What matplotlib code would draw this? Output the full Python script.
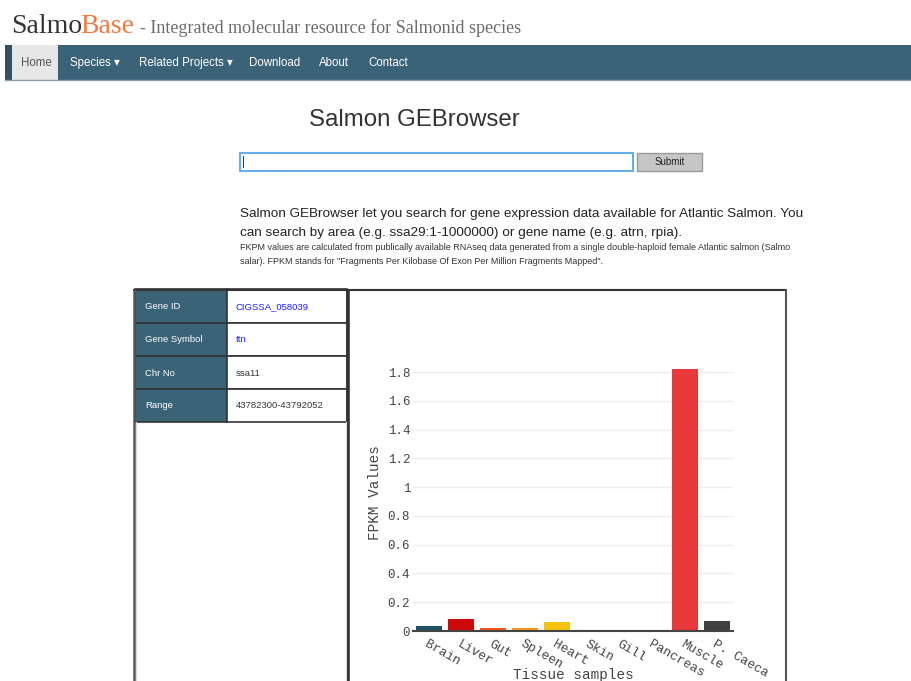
import matplotlib
matplotlib.use("Agg")
import matplotlib.pyplot as plt
from matplotlib.patches import Rectangle

# ---------------- data ----------------
tissues = ["Brain", "Liver", "Gut", "Spleen", "Heart", "Skin", "Gill",
           "Pancreas", "Muscle", "P. Caeca"]
fpkm = [0.033, 0.081, 0.021, 0.020, 0.060, 0.0, 0.0, 0.0, 1.82, 0.070]
bar_colors = ["#1d5266", "#cc0a0a", "#f2541b", "#f7941d", "#f2c20f",
              "#8cc63f", "#3fa9f5", "#9b59b6", "#e8393a", "#3f3f3f"]
y_ticks = [0, 0.2, 0.4, 0.6, 0.8, 1.0, 1.2, 1.4, 1.6, 1.8]
y_tick_labels = ["0", "0.2", "0.4", "0.6", "0.8", "1", "1.2", "1.4", "1.6", "1.8"]
nav_items = ["Home", "Species ▾", "Related Projects ▾", "Download", "About", "Contact"]
table_keys = ["Gene ID", "Gene Symbol", "Chr No", "Range"]
table_vals = ["CIGSSA_058039", "ttn", "ssa11", "43782300-43792052"]

W, H = 912, 681
fig = plt.figure(figsize=(W / 100, H / 100), dpi=100)
bg = fig.add_axes([0, 0, 1, 1])
bg.set_xlim(0, W)
bg.set_ylim(H, 0)
bg.axis("off")
bg.set_zorder(0)

SANS = ["Liberation Sans", "DejaVu Sans"]
SERIF = ["Liberation Serif", "DejaVu Serif"]
MONO = ["Liberation Mono", "DejaVu Sans Mono"]

# ---------------- header ----------------
bg.text(11, 33, "Salmo", family=SERIF, fontsize=20, color="#333333", va="baseline")
bg.text(80, 33, "Base", family=SERIF, fontsize=20, color="#f07a3c", va="baseline")
bg.text(140, 33, "- Integrated molecular resource for Salmonid species", family=SERIF,
        fontsize=12.95, color="#6b6b6b", va="baseline")

# nav bar
bg.add_patch(Rectangle((5, 45), W - 5, 35, color="#3b6377", lw=0))
bg.add_patch(Rectangle((5, 45), 7, 35, color="#2e5263", lw=0))
bg.add_patch(Rectangle((12, 45), 46, 35, color="#e7e7e7", lw=0))
bg.plot([5, W], [79.5, 79.5], color="#8aa3ae", lw=1)
nav_x = [21, 70, 139, 249, 319, 368]
for x, t in zip(nav_x, nav_items):
    bg.text(x, 63, t, family=SANS, fontsize=8.3, color="#555555" if t == "Home" else "white",
            va="center", ha="left")

# title
bg.text(414, 120, "Salmon GEBrowser", family=SANS, fontsize=17.3, color="#333333",
        ha="center", va="center")

# search input + button
bg.add_patch(Rectangle((240.5, 152.5), 393, 18, facecolor="white", edgecolor="#66afe9", lw=1.5))
bg.plot([243, 243], [156, 167], color="#333333", lw=0.7)
bg.add_patch(Rectangle((637.5, 152.5), 65, 18, facecolor="#c6c6c6", edgecolor="#9a9a9a", lw=1))
bg.text(670, 162, "Submit", family=SANS, fontsize=7, color="#222222", ha="center", va="center")

# description
bg.text(240, 214, "Salmon GEBrowser let you search for gene expression data available for Atlantic Salmon. You",
        family=SANS, fontsize=9.7, color="#222222", va="center")
bg.text(240, 233, "can search by area (e.g. ssa29:1-1000000) or gene name (e.g. atrn, rpia).",
        family=SANS, fontsize=9.7, color="#222222", va="center")
bg.text(240, 248, "FKPM values are calculated from publically available RNAseq data generated from a single double-haploid female Atlantic salmon (Salmo",
        family=SANS, fontsize=6.45, color="#333333", va="center")
bg.text(240, 262, "salar). FPKM stands for \"Fragments Per Kilobase Of Exon Per Million Fragments Mapped\".",
        family=SANS, fontsize=6.45, color="#333333", va="center")

# ---------------- panels ----------------
dark = "#333333"
bg.plot([133, 787], [289.5, 289.5], color=dark, lw=1.5, solid_capstyle="butt")
bg.plot([134, 134], [289, H], color="#555555", lw=1.8, solid_capstyle="butt")
bg.plot([348.5, 348.5], [289, H], color=dark, lw=2.6, solid_capstyle="butt")
bg.plot([786.5, 786.5], [289, H], color="#555555", lw=1.5, solid_capstyle="butt")
bg.plot([136, 136], [422, H], color="#dddddd", lw=0.8)
bg.plot([346, 346], [422, H], color="#dddddd", lw=0.8)

row_top = [289, 323, 356, 389]
row_h = [34, 33, 33, 33]
for i, (k, v) in enumerate(zip(table_keys, table_vals)):
    y0 = row_top[i]
    bg.add_patch(Rectangle((135, y0), 92, row_h[i], facecolor="#3b6377", edgecolor=dark, lw=1.2))
    bg.add_patch(Rectangle((227, y0), 120, row_h[i], facecolor="white", edgecolor=dark, lw=1.2))
    yc = y0 + row_h[i] / 2 + 0.5
    bg.text(145, yc, k, family=SANS, fontsize=6.8, color="white", va="center")
    bg.text(236, yc, v, family=SANS, fontsize=6.8,
            color="#1a1aff" if i < 2 else "#333333", va="center")

# ---------------- chart ----------------
y0_px, ytop_px = 631, 355.5
ax = fig.add_axes([413 / W, (H - y0_px) / H, 320 / W, (y0_px - ytop_px) / H])
ax.set_zorder(2)
ax.set_facecolor("none")
xs = list(range(len(tissues)))
ax.bar(xs, fpkm, width=0.8, color=bar_colors, zorder=3)
ax.set_xlim(-0.5, len(tissues) - 0.5)
ax.set_ylim(0, 1.915)
ax.set_yticks(y_ticks)
ax.set_yticklabels(y_tick_labels, family=MONO, fontsize=9, color="#444444")
ax.yaxis.grid(True, color="#eeeeee", lw=1, zorder=0)
ax.set_axisbelow(True)
for s in ["top", "right", "left"]:
    ax.spines[s].set_visible(False)
ax.spines["bottom"].set_color("#444444")
ax.spines["bottom"].set_linewidth(1.5)
ax.spines["bottom"].set_zorder(4)
ax.tick_params(axis="both", length=0)
ax.tick_params(axis="y", pad=2)
ax.set_xticks(xs)
ax.set_xticklabels(tissues, family=MONO, fontsize=9.3, color="#444444",
                   rotation=-30, ha="left", va="top", rotation_mode="anchor")
ax.tick_params(axis="x", pad=5)
fig.text(375 / W, 1 - 493 / H, "FPKM Values", family=MONO, fontsize=10.4,
         color="#444444", ha="center", va="center", rotation=90)
fig.text(573 / W, 1 - 675 / H, "Tissue samples", family=MONO, fontsize=10.4,
         color="#444444", ha="center", va="center")

fig.savefig("out.png", dpi=100)
